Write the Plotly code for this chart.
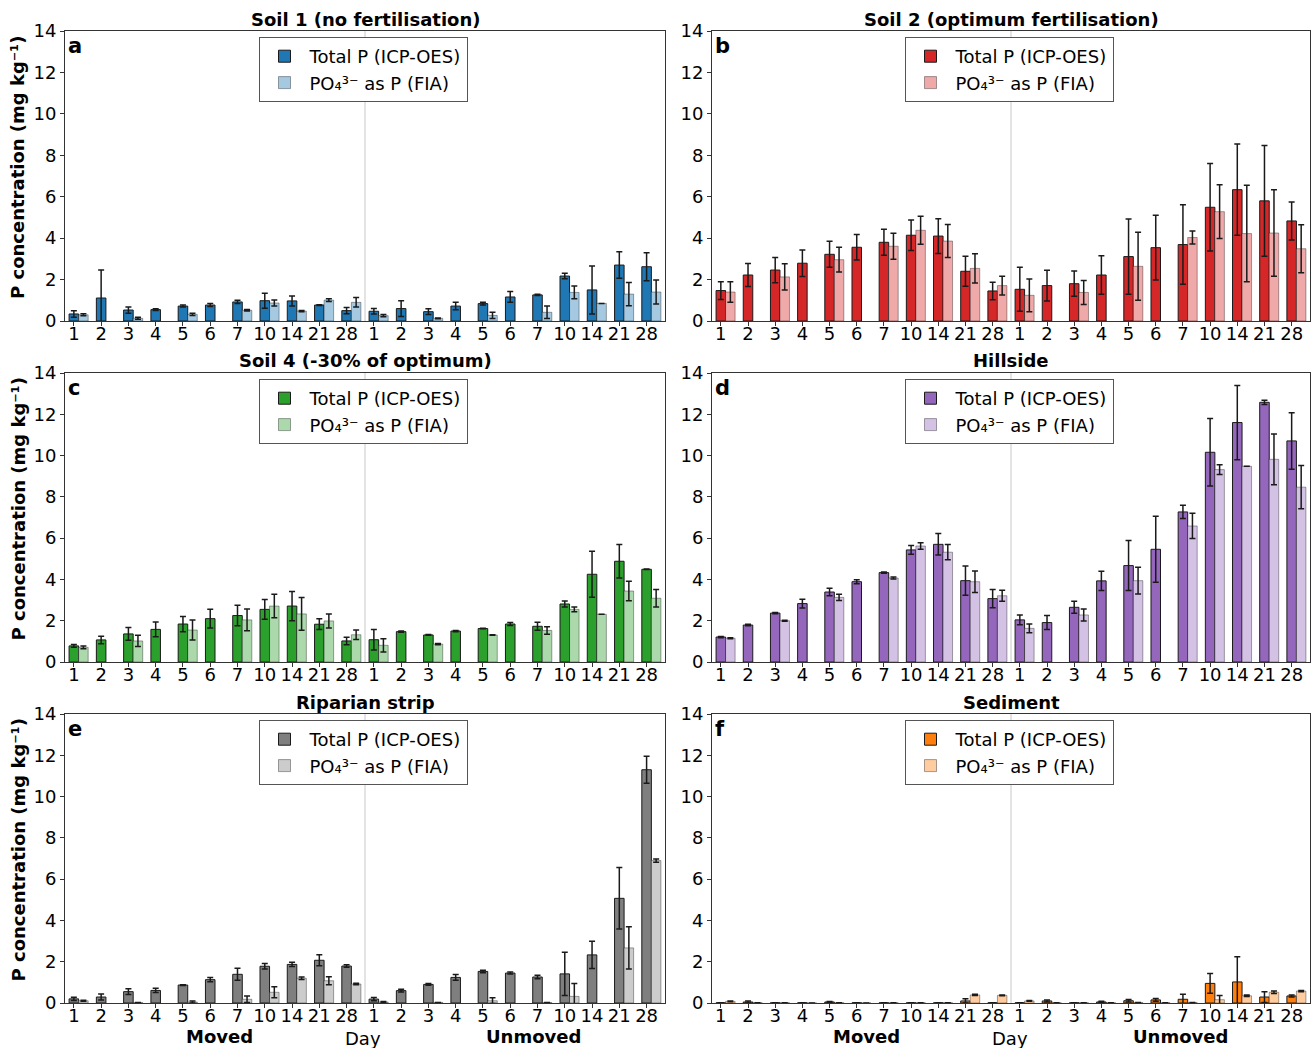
import plotly.graph_objects as go

W, H = 1313, 1048

days = ["1", "2", "3", "4", "5", "6", "7", "10", "14", "21", "28"]
tick_labels = days + days  # moved + unmoved

# ---- Soil 1 (no fertilisation)
soil1_total = [0.34, 1.11, 0.53, 0.55, 0.72, 0.77, 0.92, 0.98, 0.97, 0.77, 0.50,
               0.47, 0.60, 0.45, 0.72, 0.84, 1.16, 1.26, 2.17, 1.50, 2.70, 2.62]
soil1_total_err = [0.16, 1.35, 0.15, 0.04, 0.05, 0.07, 0.08, 0.36, 0.24, 0.02, 0.15,
                   0.13, 0.38, 0.14, 0.18, 0.07, 0.26, 0.03, 0.13, 1.16, 0.64, 0.68]
soil1_fia = [0.30, None, 0.13, None, 0.32, None, 0.52, 0.87, 0.48, 1.01, 0.90,
             0.26, None, 0.13, None, 0.27, None, 0.42, 1.38, 0.85, 1.30, 1.40]
soil1_fia_err = [0.05, None, 0.05, None, 0.05, None, 0.04, 0.14, 0.03, 0.07, 0.23,
                 0.05, None, 0.02, None, 0.15, None, 0.30, 0.31, None, 0.56, 0.58]

# ---- Soil 2 (optimum fertilisation)
soil2_total = [1.47, 2.22, 2.46, 2.79, 3.22, 3.56, 3.80, 4.14, 4.10, 2.40, 1.45,
               1.53, 1.71, 1.80, 2.22, 3.11, 3.54, 3.69, 5.49, 6.34, 5.80, 4.83]
soil2_total_err = [0.43, 0.56, 0.61, 0.64, 0.63, 0.61, 0.63, 0.74, 0.84, 0.72, 0.42,
                   1.06, 0.74, 0.61, 0.93, 1.82, 1.56, 1.92, 2.11, 2.20, 2.67, 0.92]
soil2_fia = [1.40, None, 2.13, None, 2.96, None, 3.61, 4.38, 3.86, 2.54, 1.71,
             1.24, None, 1.38, None, 2.64, None, 4.03, 5.28, 4.22, 4.25, 3.49]
soil2_fia_err = [0.50, None, 0.63, None, 0.60, None, 0.63, 0.68, 0.80, 0.71, 0.45,
                 0.79, None, 0.58, None, 1.64, None, 0.31, 1.30, 2.33, 2.09, 1.16]

# ---- Soil 4 (-30% of optimum)
soil4_total = [0.78, 1.07, 1.36, 1.58, 1.84, 2.10, 2.25, 2.55, 2.71, 1.83, 1.02,
               1.08, 1.47, 1.31, 1.50, 1.62, 1.84, 1.73, 2.81, 4.25, 4.88, 4.49]
soil4_total_err = [0.07, 0.18, 0.31, 0.36, 0.37, 0.45, 0.50, 0.48, 0.71, 0.26, 0.18,
                   0.50, 0.03, 0.02, 0.03, 0.01, 0.07, 0.19, 0.15, 1.11, 0.81, 0.01]
soil4_fia = [0.71, None, 1.02, None, 1.55, None, 2.04, 2.71, 2.33, 1.99, 1.32,
             0.81, None, 0.87, None, 1.31, None, 1.53, 2.55, 2.31, 3.44, 3.09]
soil4_fia_err = [0.07, None, 0.27, None, 0.48, None, 0.53, 0.57, 0.79, 0.34, 0.23,
                 0.32, None, 0.03, None, 0.01, None, 0.18, 0.11, None, 0.47, 0.42]

# ---- Hillside
hill_total = [1.21, 1.79, 2.37, 2.83, 3.39, 3.89, 4.33, 5.43, 5.70, 3.94, 3.07,
              2.04, 1.91, 2.65, 3.93, 4.67, 5.46, 7.27, 10.16, 11.60, 12.58, 10.71]
hill_total_err = [0.03, 0.04, 0.03, 0.21, 0.18, 0.10, 0.03, 0.21, 0.52, 0.71, 0.44,
                  0.24, 0.34, 0.29, 0.47, 1.21, 1.60, 0.32, 1.63, 1.80, 0.10, 1.37]
hill_fia = [1.15, None, 2.00, None, 3.13, None, 4.07, 5.62, 5.32, 3.89, 3.21,
            1.63, None, 2.28, None, 3.94, None, 6.59, 9.32, 9.48, 9.82, 8.47]
hill_fia_err = [0.02, None, 0.02, None, 0.15, None, 0.05, 0.16, 0.37, 0.52, 0.27,
                0.21, None, 0.29, None, 0.65, None, 0.61, 0.24, None, 1.23, 1.05]

# ---- Riparian strip
rip_total = [0.20, 0.29, 0.55, 0.61, 0.87, 1.13, 1.39, 1.78, 1.87, 2.07, 1.79,
             0.19, 0.60, 0.90, 1.24, 1.53, 1.45, 1.26, 1.41, 2.33, 5.07, 11.30]
rip_total_err = [0.08, 0.15, 0.14, 0.10, 0.02, 0.10, 0.29, 0.13, 0.10, 0.27, 0.06,
                 0.08, 0.07, 0.04, 0.14, 0.06, 0.05, 0.08, 1.05, 0.66, 1.49, 0.65]
rip_fia = [0.11, None, 0.02, None, 0.05, None, 0.18, 0.52, 1.20, 1.08, 0.92,
           0.05, None, 0.03, None, 0.11, None, 0.02, 0.32, None, 2.67, 6.90]
rip_fia_err = [0.02, None, None, None, 0.05, None, 0.16, 0.27, 0.06, 0.19, 0.04,
               0.02, None, None, None, 0.14, None, None, 0.63, None, 1.02, 0.08]

# ---- Sediment
sed_total = [0.01, 0.05, 0.01, 0.01, 0.05, 0.01, 0.01, 0.01, 0.01, 0.10, 0.01,
             0.01, 0.10, 0.01, 0.05, 0.11, 0.15, 0.18, 0.95, 1.02, 0.29, 0.34]
sed_total_err = [None, 0.05, None, None, 0.02, None, None, None, None, 0.10, None,
                 None, 0.05, None, 0.03, 0.06, 0.07, 0.24, 0.48, 1.22, 0.26, 0.05]
sed_fia = [0.08, 0.01, 0.01, 0.00, 0.01, 0.00, 0.01, 0.01, 0.01, 0.39, 0.37,
           0.10, 0.01, 0.01, 0.01, 0.02, 0.01, 0.02, 0.16, 0.35, 0.52, 0.58]
sed_fia_err = [0.02, None, None, None, None, None, None, None, None, 0.03, 0.02,
               0.02, None, None, None, None, None, None, 0.20, 0.04, 0.06, 0.03]

titles = ["Soil 1 (no fertilisation)", "Soil 2 (optimum fertilisation)",
          "Soil 4 (-30% of optimum)", "Hillside", "Riparian strip", "Sediment"]
letters = ["a", "b", "c", "d", "e", "f"]
colors = ["#1f77b4", "#d62728", "#2ca02c", "#9467bd", "#7f7f7f", "#ff7f0e"]
light_colors = ["#a5c9e1", "#efa9a9", "#abd9ab", "#d4c2e5", "#cccccc", "#ffcc9f"]
series = [
    (soil1_total, soil1_total_err, soil1_fia, soil1_fia_err),
    (soil2_total, soil2_total_err, soil2_fia, soil2_fia_err),
    (soil4_total, soil4_total_err, soil4_fia, soil4_fia_err),
    (hill_total, hill_total_err, hill_fia, hill_fia_err),
    (rip_total, rip_total_err, rip_fia, rip_fia_err),
    (sed_total, sed_total_err, sed_fia, sed_fia_err),
]

FONT = "DejaVu Sans"
FS = 18
col_px = [(65, 665), (712, 1310)]
row_px = [(31, 321), (373, 662), (714, 1003)]
BW = 0.35
xpos = list(range(len(tick_labels)))

fig = go.Figure()
layout = dict(
    width=W, height=H, margin=dict(l=0, r=0, t=0, b=0, pad=0, autoexpand=False),
    paper_bgcolor="white", plot_bgcolor="white",
    barmode="overlay", font=dict(family=FONT, size=FS, color="black"),
    annotations=[], shapes=[],
)

for k in range(6):
    n = k + 1
    r, c = divmod(k, 2)
    x0, x1 = col_px[c]
    y0, y1 = row_px[r]
    sfx = "" if n == 1 else str(n)
    leg = "legend" if n == 1 else f"legend{n}"
    tot, terr, fia, ferr = series[k]

    fig.add_trace(go.Bar(
        x=xpos, y=tot, width=BW, name="Total P (ICP-OES)",
        marker=dict(color=colors[k], line=dict(color="#1a1a1a", width=1)),
        error_y=dict(type="data", array=terr, color="#1a1a1a", thickness=1.5, width=3),
        xaxis=f"x{sfx}", yaxis=f"y{sfx}", legend=leg, legendgroup=f"t{n}",
    ))
    fig.add_trace(go.Bar(
        x=[p + BW for p in xpos], y=fia, width=BW, name="PO₄³⁻ as P (FIA)",
        marker=dict(color=light_colors[k], line=dict(color="rgba(0,0,0,0.35)", width=1)),
        error_y=dict(type="data", array=ferr, color="#1a1a1a", thickness=1.5, width=3),
        xaxis=f"x{sfx}", yaxis=f"y{sfx}", legend=leg, legendgroup=f"f{n}",
    ))

    axis_common = dict(showline=True, mirror=True, linecolor="#333", linewidth=1,
                       ticks="outside", ticklen=4, tickcolor="#333",
                       showgrid=False, zeroline=False, automargin=False,
                       tickfont=dict(size=FS, family=FONT))
    layout[f"xaxis{sfx}"] = dict(domain=[x0 / W, x1 / W], range=[-0.325, 21.675],
                                 tickvals=xpos, ticktext=tick_labels,
                                 ticklabelstandoff=-8,
                                 anchor=f"y{sfx}", **axis_common)
    layout[f"yaxis{sfx}"] = dict(domain=[1 - y1 / H, 1 - y0 / H], range=[0, 14],
                                 tickvals=list(range(0, 15, 2)),
                                 anchor=f"x{sfx}", **axis_common)

    layout["shapes"].append(dict(type="line", xref=f"x{sfx}", yref=f"y{sfx} domain",
                                 x0=10.675, x1=10.675, y0=0, y1=1,
                                 line=dict(color="#c8c8c8", width=1), layer="below"))

    cx = (x0 + x1) / 2
    layout[leg] = dict(x=(cx - 2) / W, y=1 - (y0 + 6) / H, xanchor="center", yanchor="top",
                       bgcolor="white", bordercolor="#555", borderwidth=1,
                       font=dict(size=FS, family=FONT), tracegroupgap=0,
                       itemwidth=40)

    layout["annotations"].append(dict(text=f"<b>{titles[k]}</b>", xref="paper", yref="paper",
                                      x=cx / W, y=1 - (y0 - 12) / H, xanchor="center",
                                      yanchor="middle", showarrow=False,
                                      font=dict(size=FS, family=FONT)))
    layout["annotations"].append(dict(text=f"<b>{letters[k]}</b>", xref="paper", yref="paper",
                                      x=(x0 + 1) / W, y=1 - (y0 + 15) / H, xanchor="left",
                                      yanchor="middle", showarrow=False,
                                      font=dict(size=21, family=FONT)))
    if c == 0:
        layout["annotations"].append(dict(text="<b>P concentration (mg kg⁻¹)</b>",
                                          xref="paper", yref="paper",
                                          x=18 / W, y=1 - ((y0 + y1) / 2 - 8) / H,
                                          xanchor="center", yanchor="middle",
                                          textangle=-90, showarrow=False,
                                          font=dict(size=FS, family=FONT)))
    if r == 2:
        for txt, px, py in [("<b>Moved</b>", x0 + 155, 1036),
                            ("Day", x0 + 298, 1038),
                            ("<b>Unmoved</b>", x0 + 468, 1036)]:
            layout["annotations"].append(dict(text=txt, xref="paper", yref="paper",
                                              x=px / W, y=1 - py / H, xanchor="center",
                                              yanchor="middle", showarrow=False,
                                              font=dict(size=FS, family=FONT)))

fig.update_layout(**layout)
fig.write_html("out.html")
